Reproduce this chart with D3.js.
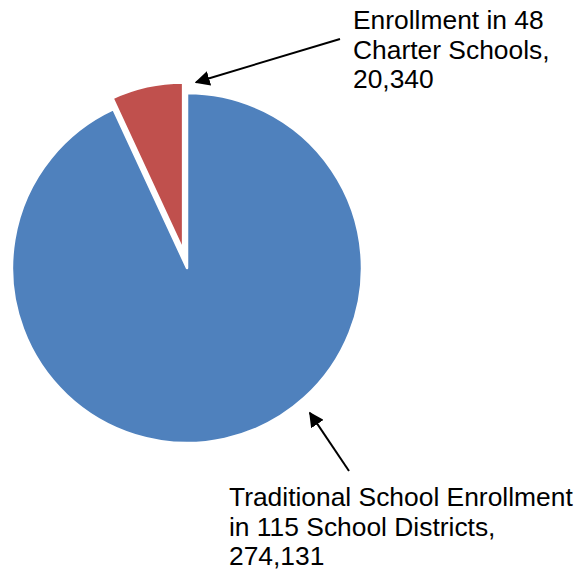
<!DOCTYPE html>
<html>
<head>
<meta charset="utf-8">
<script src="https://cdn.jsdelivr.net/npm/d3@7"></script>
<style>
  body { margin: 0; background: #fff; }
  text { font-family: "Liberation Sans", Arial, sans-serif; }
</style>
</head>
<body>
<div id="canvas"></div>
<script>
// data
var categories = ['Traditional School Enrollment in 115 School Districts', 'Enrollment in 48 Charter Schools'];
var values = [274131, 20340];
var colors = ['#4F81BD', '#C0504D'];
var labelLines = [
    ['Traditional School Enrollment', 'in 115 School Districts,', '274,131'],
    ['Enrollment in 48', 'Charter Schools,', '20,340']
];
var exploded = [false, true];

// layout
var width = 575, height = 569;
var cx = 187, cy = 268;
var r = 175;      // main slice
var rEx = 168;    // exploded slice
var explode = 18;

var svg = d3.select('#canvas')
    .append('svg')
    .attr('width', width)
    .attr('height', height);

svg.append('defs').append('marker')
    .attr('id', 'arrow')
    .attr('viewBox', '0 0 10 10')
    .attr('refX', 9)
    .attr('refY', 5)
    .attr('markerWidth', 7.5)
    .attr('markerHeight', 7.5)
    .attr('markerUnits', 'strokeWidth')
    .attr('orient', 'auto')
    .append('path')
    .attr('d', 'M0,0 L10,5 L0,10 Z')
    .attr('fill', '#000');

var pie = d3.pie().sort(null).value(function(d){ return d; });
var arcs = pie(values);

var g = svg.append('g').attr('transform', 'translate(' + cx + ',' + cy + ')');

g.selectAll('.slice')
    .data(arcs)
    .enter()
    .append('path')
    .attr('class', 'slice')
    .attr('d', function(d, i){
        return d3.arc().innerRadius(0).outerRadius(exploded[i] ? rEx : r)(d);
    })
    .attr('transform', function(d, i){
        if (!exploded[i]) return null;
        var p = d3.pointRadial((d.startAngle + d.endAngle) / 2, explode);
        return 'translate(' + p[0] + ',' + p[1] + ')';
    })
    .attr('fill', function(d, i){ return colors[i]; })
    .attr('stroke', '#fff')
    .attr('stroke-width', 2.5)
    .attr('stroke-linejoin', 'round');

// annotations: arrow from label to the slice, [angle (deg), tip radius, tail x, tail y]
var arrows = [
    [139.7, 190, 349, 471],
    [2.8, 186, 340, 39]
];
var labelPos = [[229, 506], [353, 29]];

arrows.forEach(function(a, i){
    var tip = d3.pointRadial(a[0] * Math.PI / 180, a[1]);
    svg.append('line')
        .attr('x1', a[2])
        .attr('y1', a[3])
        .attr('x2', cx + tip[0])
        .attr('y2', cy + tip[1])
        .attr('stroke', '#000')
        .attr('stroke-width', 2)
        .attr('marker-end', 'url(#arrow)');
});

labelLines.forEach(function(lines, i){
    var t = svg.append('text')
        .attr('x', labelPos[i][0])
        .attr('y', labelPos[i][1])
        .style('font-size', '26.4px')
        .attr('fill', '#000');
    t.selectAll('tspan')
        .data(lines)
        .enter()
        .append('tspan')
        .attr('x', labelPos[i][0])
        .attr('dy', function(d, j){ return j === 0 ? 0 : 29.5; })
        .text(function(d){ return d; });
});
</script>
</body>
</html>
